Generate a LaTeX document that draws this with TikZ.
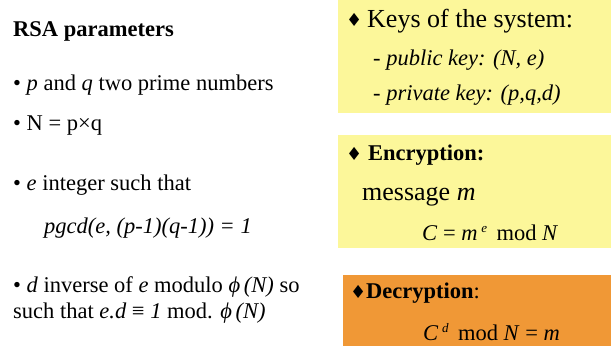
\documentclass[tikz,border=0pt]{standalone}
\usepackage{fontspec}
\setmainfont{Liberation Serif}
\newfontfamily\symfont{DejaVu Sans}
\definecolor{keyyellow}{RGB}{252,247,154}
\definecolor{decorange}{RGB}{240,152,54}
\newcommand{\supr}[1]{\raisebox{8pt}{\fontsize{13}{13}\selectfont\itshape #1}}
\tikzset{
  txt/.style={anchor=base west, inner sep=0pt, font=\fontsize{22.5}{27}\selectfont},
  bigtxt/.style={txt, font=\fontsize{26}{30}\selectfont},
  suit/.style={anchor=base west, inner sep=0pt, font=\symfont\fontsize{18}{18}\selectfont},
  panel/.style={draw=none, fill=#1}
}
\begin{document}
\begin{tikzpicture}[x=1pt, y=-1pt]
\useasboundingbox (0,0) rectangle (611,346);

% coloured panels on the right
\fill[panel=keyyellow] (338,0) rectangle (611,113);
\fill[panel=keyyellow] (338,135) rectangle (611,248);
\fill[panel=decorange] (343,275) rectangle (611,346);

% parameters column
\node[txt] (title) at (13,36) {\textbf{RSA parameters}};
\node[txt] (pq) at (13,90) {• \textit{p} and \textit{q} two prime numbers};
\node[txt] (n) at (13,130) {• N = p×q};
\node[txt] (e) at (13,190) {• \textit{e} integer such that};
\node[txt] (gcd) at (44,233) {\textit{pgcd(e, (p-1)(q-1)) = 1}};
\node[txt] (d1) at (13,292) {• \textit{d} inverse of \textit{e} modulo \textit{ϕ\,(N)} so};
\node[txt] (d2) at (13,318) {such that \textit{e.d} ≡ \textit{1} mod. \textit{ϕ\,(N)}};

% keys
\node[suit] (keysmark) at (346,26) {♦};
\node[bigtxt] (keys) at (367,27) {Keys of the system:};
\node[txt] (pub) at (373,65) {\textit{- public key: (N, e)}};
\node[txt] (priv) at (373,100) {\textit{- private key: (p,q,d)}};

% encryption
\node[suit] (encmark) at (346,160) {♦};
\node[txt] (enc) at (368,160) {\textbf{Encryption:}};
\node[bigtxt] (msg) at (362,200) {message \textit{m}};
\node[txt] (cipher) at (422,240) {\textit{C} = \textit{m}\,\supr{e}\, mod \textit{N}};

% decryption
\node[suit] (decmark) at (350,298) {♦};
\node[txt] (dec) at (366,298) {\textbf{Decryption}:};
\node[txt] (plain) at (423,340) {\textit{C}\,\supr{d}\, mod \textit{N} = \textit{m}};
\end{tikzpicture}
\end{document}
